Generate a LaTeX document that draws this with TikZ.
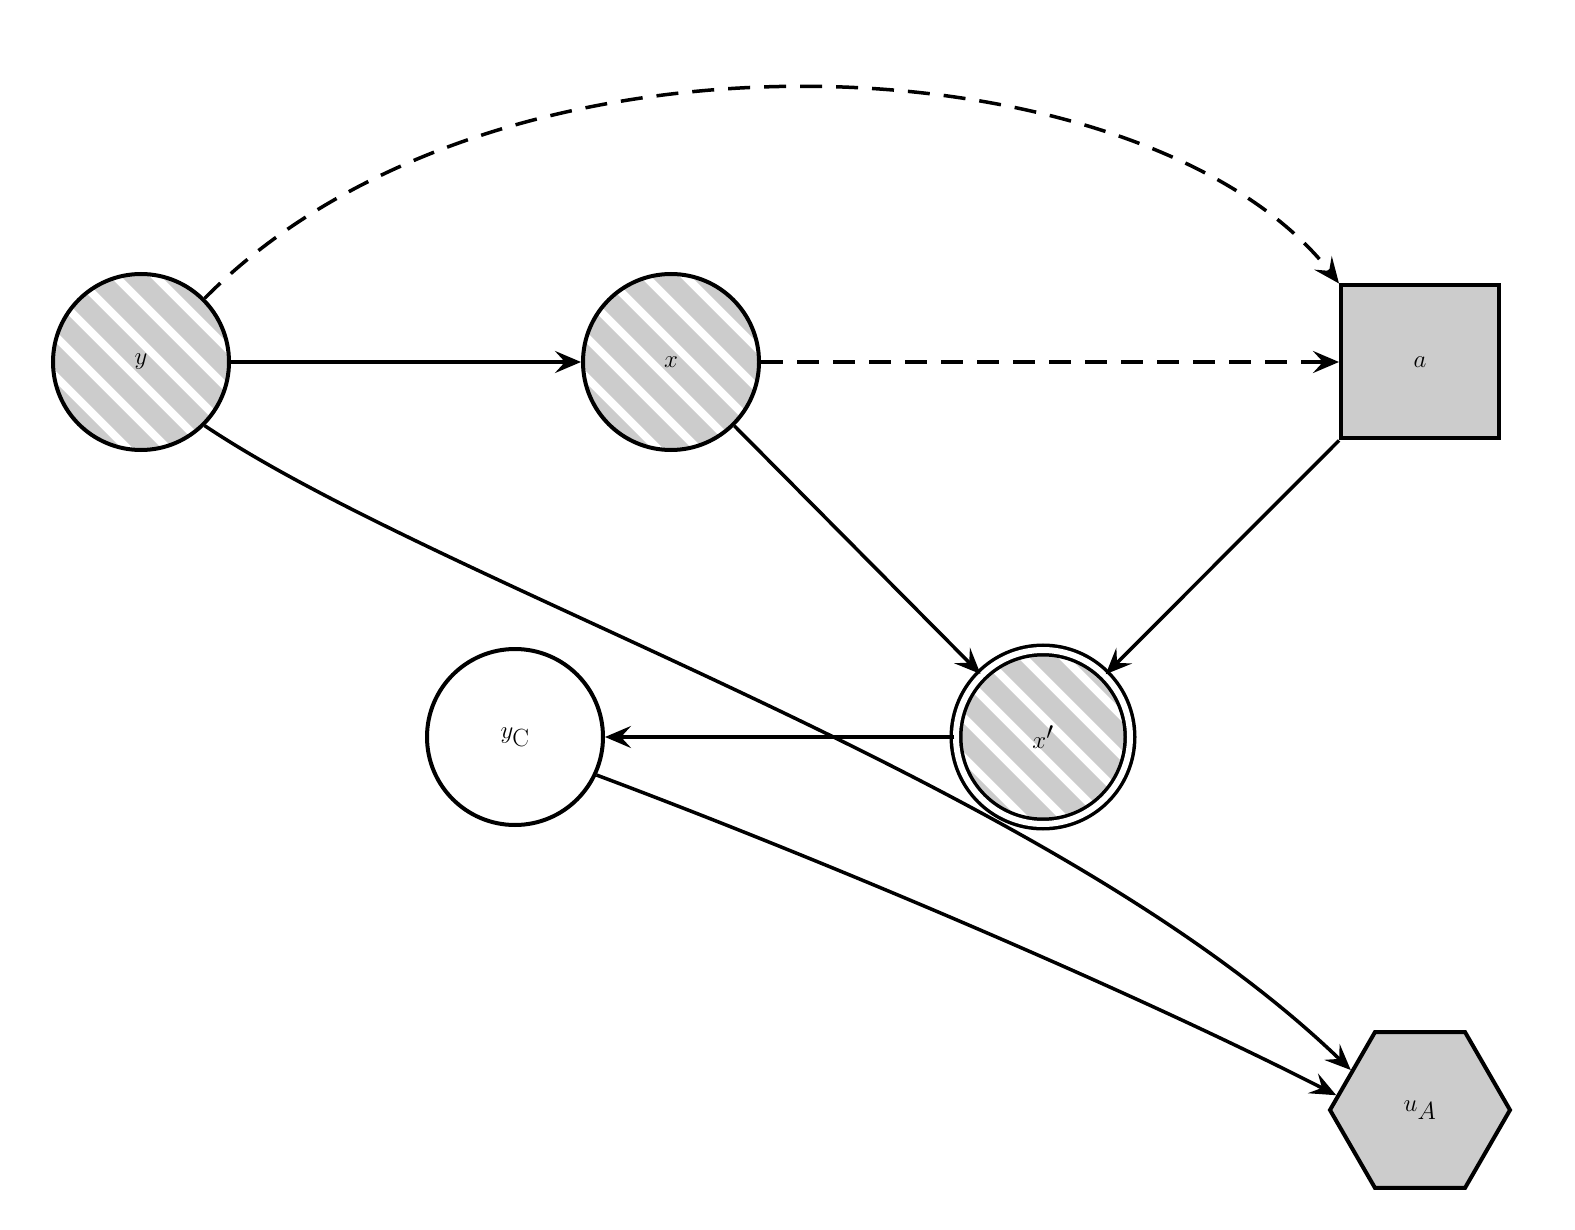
\documentclass[tikz,border=0pt]{standalone}
\usetikzlibrary{arrows.meta,shapes.geometric}
\begin{document}
\begin{tikzpicture}[x=1pt,y=-1pt,
  font=\fontsize{40}{44}\selectfont,
  hatch/.style={path picture={
     \foreach \k in {-8,...,8}{
       \draw[gray!40,line width=20pt] ([xshift=\k*40pt-150pt,yshift=150pt]path picture bounding box.center) -- ++(300pt,-300pt);}}},
  circ/.style={circle,draw,line width=4pt,minimum size=176pt,inner sep=0pt},
  arr/.style={line width=3.5pt,-{Stealth[length=26pt,width=22pt,inset=10pt]}},
  dsh/.style={arr,dash pattern=on 22pt off 14pt}]
\useasboundingbox (0,0) rectangle (1575,1230);
\node[circ,hatch] (y) at (141,362) {$y$};
\node[circ,hatch] (x) at (671,362) {$x$};
\node[draw,line width=4pt,fill=gray!40,minimum width=158pt,minimum height=153pt] (a) at (1420,362) {$a$};
\node[circ,hatch,minimum size=174pt,double,double distance=6pt,line width=3.5pt] (xp) at (1043,737) {$x'$};
\node[circ] (yc) at (515,737) {$y_{\mathrm{C}}$};
\node[regular polygon,regular polygon sides=6,draw,line width=4pt,fill=gray!40,minimum size=180pt,inner sep=0pt] (u) at (1420,1110) {$u_A$};
\draw[arr] (y) -- (x);
\draw[dsh] (x) -- (a);
\draw[dsh] (y.45) .. controls (500,0) and (1150,40) .. (a.north west);
\draw[arr] (x) -- (xp);
\draw[arr] (a.south west) -- (xp);
\draw[arr] (xp) -- (yc);
\draw[arr] (y.-45) .. controls (450,590) and (1050,780) .. (u.150);
\draw[arr] (yc.-25) .. controls (850,870) and (1150,1000) .. (u.170);
\end{tikzpicture}
\end{document}
